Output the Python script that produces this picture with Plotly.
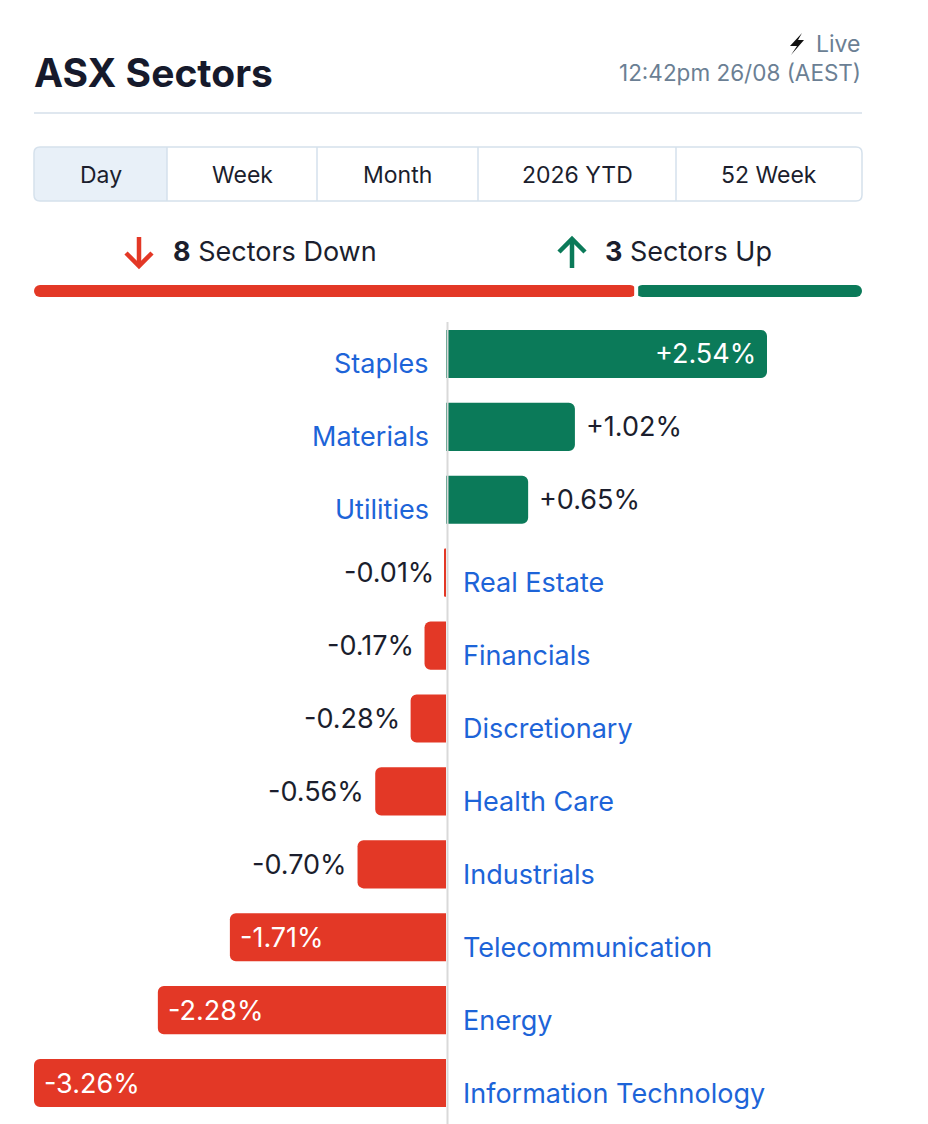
import plotly.graph_objects as go

W, H = 928, 1124
OFF = 8  # page margin around the figure

sectors = ["Staples", "Materials", "Utilities", "Real Estate", "Financials",
           "Discretionary", "Health Care", "Industrials", "Telecommunication",
           "Energy", "Information Technology"]
changes = [2.54, 1.02, 0.65, -0.01, -0.17, -0.28, -0.56, -0.70, -1.71, -2.28, -3.26]
periods = ["Day", "Week", "Month", "2026 YTD", "52 Week"]
selected = "Day"
title = "ASX Sectors"
status = "Live"
stamp = "12:42pm 26/08 (AEST)"

GREEN = "#0b7a59"
RED = "#e33826"
BLUE = "#1d64d8"
DARK = "#1b1e2d"
GREY = "#6b7f94"
FONT = "Inter"


n_down = sum(1 for v in changes if v < 0)
n_up = len(changes) - n_down


def px(x):
    return (x - OFF) / W


def py(y):
    return 1 - (y - OFF) / H


def path(points, close=True):
    s = "M " + " L ".join(f"{px(x):.5f},{py(y):.5f}" for x, y in points)
    return s + (" Z" if close else "")


def rrect(x0, y0, x1, y1, r, left=True, right=True):
    # rounded rectangle in page pixels -> paper path
    def p(x, y):
        return f"{px(x):.5f},{py(y):.5f}"
    s = ""
    if left:
        s += f"M {p(x0, y0 + r)} Q {p(x0, y0)} {p(x0 + r, y0)}"
    else:
        s += f"M {p(x0, y0)}"
    if right:
        s += f" L {p(x1 - r, y0)} Q {p(x1, y0)} {p(x1, y0 + r)} L {p(x1, y1 - r)} Q {p(x1, y1)} {p(x1 - r, y1)}"
    else:
        s += f" L {p(x1, y0)} L {p(x1, y1)}"
    if left:
        s += f" L {p(x0 + r, y1)} Q {p(x0, y1)} {p(x0, y1 - r)} Z"
    else:
        s += f" L {p(x0, y1)} Z"
    return s


fig = go.Figure()

# main bars
fig.add_trace(go.Bar(
    x=changes, y=sectors, orientation="h", width=0.66,
    marker=dict(color=[GREEN if v >= 0 else RED for v in changes],
                cornerradius=6, line=dict(width=0)),
    hoverinfo="skip", showlegend=False,
))

# up/down split bar
fig.add_trace(go.Bar(x=[-n_down], base=[n_down], y=[0], orientation="h", width=1,
                     marker=dict(color=RED, cornerradius=6, line=dict(width=0)),
                     xaxis="x2", yaxis="y2", showlegend=False, hoverinfo="skip"))
fig.add_trace(go.Bar(x=[n_up], base=[n_down], y=[0], orientation="h", width=1,
                     marker=dict(color=GREEN, cornerradius=6, line=dict(width=0)),
                     xaxis="x2", yaxis="y2", showlegend=False, hoverinfo="skip"))

ann = []
shapes = []

# value and category labels
for name, v in zip(sectors, changes):
    txt = f"{v:+.2f}%"
    inside = abs(v) >= 1.5
    pos = v >= 0
    if inside:
        ann.append(dict(x=v, y=name, xref="x", yref="y", text=txt, showarrow=False,
                        xanchor="right" if pos else "left", xshift=-9 if pos else 8,
                        font=dict(family=FONT, size=27, color="white")))
    else:
        ann.append(dict(x=v, y=name, xref="x", yref="y", text=txt, showarrow=False,
                        xanchor="left" if pos else "right", xshift=9 if pos else -9,
                        font=dict(family=FONT, size=27, color=DARK)))
    ann.append(dict(x=0, y=name, xref="x", yref="y", text=name, showarrow=False,
                    xanchor="right" if pos else "left", xshift=-15 if pos else 15,
                    yshift=-10, font=dict(family=FONT, size=27, color=BLUE)))

# header
ann.append(dict(x=px(32), y=py(72), xref="paper", yref="paper", text=f"<b>{title}</b>",
                showarrow=False, xanchor="left", yanchor="middle",
                font=dict(family=FONT, size=39, color="#161a2c")))
ann.append(dict(x=px(862), y=py(44), xref="paper", yref="paper", text=status,
                showarrow=False, xanchor="right", yanchor="middle",
                font=dict(family=FONT, size=23, color=GREY)))
ann.append(dict(x=px(863), y=py(73), xref="paper", yref="paper", text=stamp,
                showarrow=False, xanchor="right", yanchor="middle",
                font=dict(family=FONT, size=22.5, color=GREY)))
shapes.append(dict(type="path", xref="paper", yref="paper",
                   path=path([(802, 33), (790, 46), (797, 46), (791, 55), (804, 40), (798, 40)]),
                   fillcolor="#111111", line=dict(width=0)))
shapes.append(dict(type="line", xref="paper", yref="paper", x0=px(34), x1=px(862),
                   y0=py(113), y1=py(113), line=dict(color="#dfe7ef", width=2)))

# period tabs
edges = [34, 167, 317, 478, 676, 862]
t0, t1 = 147, 201
for i, label in enumerate(periods):
    a, b = edges[i], edges[i + 1]
    if label == selected:
        shapes.append(dict(type="path", xref="paper", yref="paper",
                           path=rrect(a, t0, b, t1, 6, left=(i == 0), right=(i == len(periods) - 1)),
                           fillcolor="#e8f0f8", line=dict(width=0), layer="below"))
    if i > 0:
        shapes.append(dict(type="line", xref="paper", yref="paper", x0=px(a), x1=px(a),
                           y0=py(t0), y1=py(t1), line=dict(color="#d5e1ec", width=1.5)))
    ann.append(dict(x=px((a + b) / 2), y=py(175), xref="paper", yref="paper", text=label,
                    showarrow=False, xanchor="center", yanchor="middle",
                    font=dict(family=FONT, size=23, color=DARK)))
shapes.append(dict(type="path", xref="paper", yref="paper", path=rrect(34, t0, 862, t1, 6),
                   fillcolor="rgba(0,0,0,0)", line=dict(color="#d5e1ec", width=1.5)))

# summary line
ann.append(dict(x=px(171), y=py(252), xref="paper", yref="paper",
                text=f"<b>{n_down}</b> Sectors Down", showarrow=False, xanchor="left",
                yanchor="middle", font=dict(family=FONT, size=27, color=DARK)))
ann.append(dict(x=px(603), y=py(252), xref="paper", yref="paper",
                text=f"<b>{n_up}</b> Sectors Up", showarrow=False, xanchor="left",
                yanchor="middle", font=dict(family=FONT, size=27, color=DARK)))
shapes.append(dict(type="path", xref="paper", yref="paper", path=path([(139, 237), (139, 265)], False),
                   line=dict(color=RED, width=4.5)))
shapes.append(dict(type="path", xref="paper", yref="paper",
                   path=path([(126, 253), (139, 266), (152, 253)], False),
                   line=dict(color=RED, width=4.5)))
shapes.append(dict(type="path", xref="paper", yref="paper", path=path([(572, 268), (572, 240)], False),
                   line=dict(color=GREEN, width=4.5)))
shapes.append(dict(type="path", xref="paper", yref="paper",
                   path=path([(559, 252), (572, 239), (585, 252)], False),
                   line=dict(color=GREEN, width=4.5)))
shapes.append(dict(type="line", xref="x2", yref="paper", x0=n_down, x1=n_down,
                   y0=py(283), y1=py(300), line=dict(color="white", width=4)))

# zero line
shapes.append(dict(type="line", xref="x", yref="paper", xsizemode="pixel", xanchor=0,
                   x0=1.5, x1=1.5, y0=py(322), y1=py(1124), line=dict(color="#d9d9d9", width=2)))

lim = max(abs(v) for v in changes)
fig.update_layout(
    width=W, height=H, margin=dict(l=0, r=0, t=0, b=0),
    paper_bgcolor="white", plot_bgcolor="white", barmode="overlay",
    xaxis=dict(domain=[px(34), px(862)], range=[-lim, lim * 416 / 412], visible=False,
               fixedrange=True),
    yaxis=dict(domain=[py(1119.5), py(317.5)], categoryorder="array", categoryarray=sectors,
               range=[len(sectors) - 0.5, -0.5], visible=False, fixedrange=True),
    xaxis2=dict(domain=[px(34), px(862)], range=[0, len(changes)], visible=False,
                anchor="y2", fixedrange=True),
    yaxis2=dict(domain=[py(297), py(285)], range=[-0.5, 0.5], visible=False,
                anchor="x2", fixedrange=True),
    annotations=ann, shapes=shapes, font=dict(family=FONT),
)

fig.write_html("out.html", config={"displayModeBar": False})
